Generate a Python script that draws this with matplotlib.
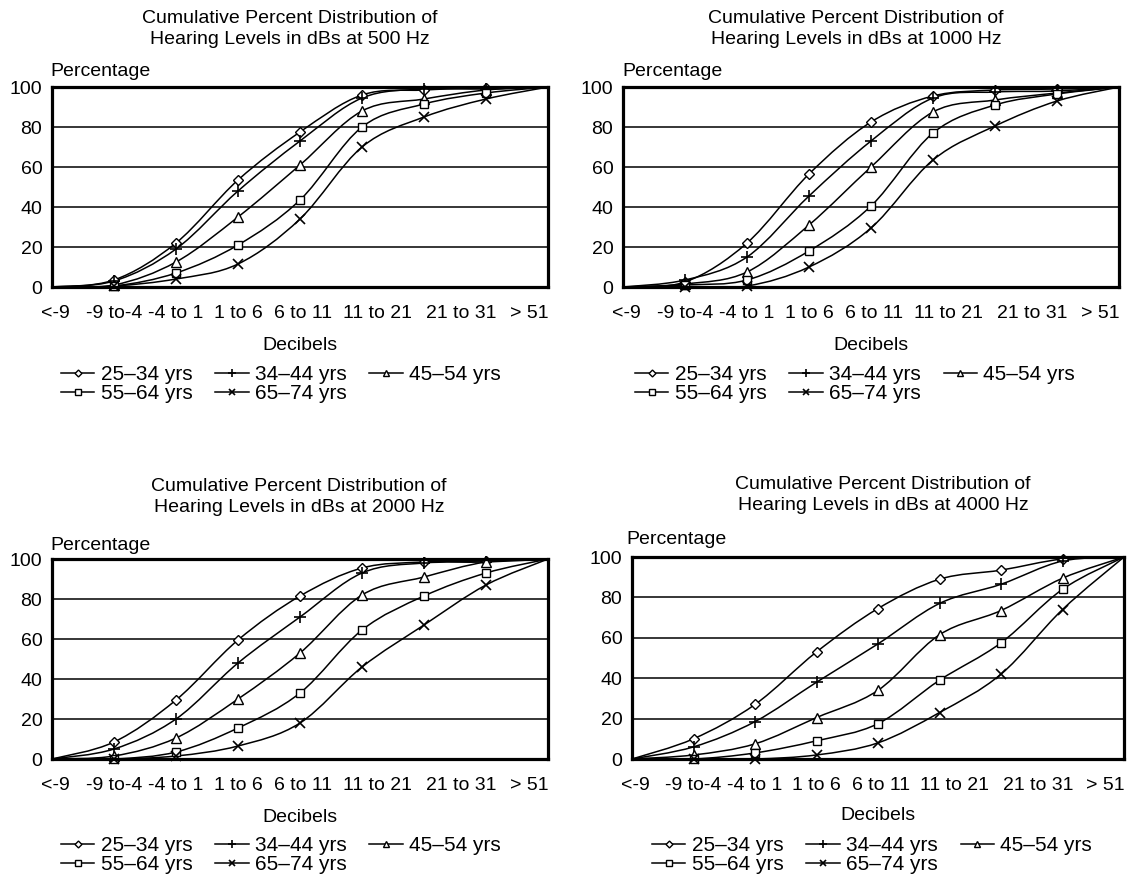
import numpy as np
import matplotlib
matplotlib.use("Agg")
import matplotlib.pyplot as plt
from matplotlib.path import Path
from matplotlib.patches import PathPatch
from matplotlib.lines import Line2D

plt.rcParams['font.family'] = ['Liberation Sans', 'DejaVu Sans']

# ---------------- data ----------------
categories = ["<-9", "-9 to-4", "-4 to 1", "1 to 6", "6 to 11",
              "11 to 21", "21 to 31", "> 51"]
series_labels = ["25\u201334 yrs", "34\u201344 yrs", "45\u201354 yrs",
                 "55\u201364 yrs", "65\u201374 yrs"]
frequencies = ["500", "1000", "2000", "4000"]
point_index = [0, 1, 2, 3, 4, 5, 6, 7, 8]

hz500_25_34 = [0, 3.5, 22, 53.5, 77.5, 96, 98.5, 99.5, 100]
hz500_34_44 = [0, 3, 19, 48, 73, 94.5, 99, 99, 100]
hz500_45_54 = [0, 1, 12.5, 35, 61, 88, 94, 98.5, 100]
hz500_55_64 = [0, 0.5, 7, 21, 43.5, 80, 91.5, 97, 100]
hz500_65_74 = [0, 0.5, 4, 11.5, 34, 70, 85, 94, 100]

hz1000_25_34 = [0, 2.5, 22, 56.5, 82.5, 95.5, 98.5, 99, 100]
hz1000_34_44 = [0, 3.5, 15, 45.5, 73, 94.5, 97.5, 98, 100]
hz1000_45_54 = [0, 1.5, 7.5, 31, 60, 87.5, 93.5, 97, 100]
hz1000_55_64 = [0, 1, 3.5, 18, 40.5, 77, 91, 96.5, 100]
hz1000_65_74 = [0, 0, 0.5, 10, 29.5, 63.5, 80.5, 93, 100]

hz2000_25_34 = [0, 8.5, 29.5, 59.5, 81.5, 95.5, 98.5, 99, 100]
hz2000_34_44 = [0, 5, 20, 48, 71, 93, 98, 98.5, 100]
hz2000_45_54 = [0, 1.5, 10.5, 30, 53, 82, 91, 98.5, 100]
hz2000_55_64 = [0, 0, 3.5, 15.5, 33, 64.5, 81.5, 93, 100]
hz2000_65_74 = [0, 0, 1.5, 6.5, 18, 46, 67, 87, 100]

hz4000_25_34 = [0, 10, 27, 53, 74.5, 89, 93.5, 99, 100]
hz4000_34_44 = [0, 6, 18.5, 38, 57, 77, 86.5, 98, 100]
hz4000_45_54 = [0, 2, 7.5, 20.5, 34, 61.5, 73.5, 89.5, 100]
hz4000_55_64 = [0, 0, 3, 9, 17.5, 39, 57.5, 84, 100]
hz4000_65_74 = [0, 0, 0, 2, 8, 23, 42, 74, 100]

panel_series = [
    [hz500_25_34, hz500_34_44, hz500_45_54, hz500_55_64, hz500_65_74],
    [hz1000_25_34, hz1000_34_44, hz1000_45_54, hz1000_55_64, hz1000_65_74],
    [hz2000_25_34, hz2000_34_44, hz2000_45_54, hz2000_55_64, hz2000_65_74],
    [hz4000_25_34, hz4000_34_44, hz4000_45_54, hz4000_55_64, hz4000_65_74],
]

# ---------------- style / layout ----------------
W, H = 1133, 876
fig = plt.figure(figsize=(W / 100, H / 100), dpi=100)
fig.patch.set_facecolor('white')


def fx(px):
    return px / W


def fy(py):
    return 1 - py / H


markers = [
    dict(marker='D', ms=5, mfc='white', mec='black', mew=1.0),
    dict(marker='+', ms=9, mec='black', mew=1.2),
    dict(marker='^', ms=6.5, mfc='white', mec='black', mew=1.0),
    dict(marker='s', ms=5.5, mfc='white', mec='black', mew=1.0),
    dict(marker='x', ms=6.5, mec='black', mew=1.2),
]

# pixel boxes: left, top, right, bottom
boxes = [(52, 87, 548, 287), (623, 87, 1119, 287),
         (52, 559, 548, 759), (632, 557, 1124, 759)]
title_pos = [(290, 29), (856, 29), (299, 497), (883, 495)]
perc_pos = [(50, 71), (622, 71), (50, 545), (626, 540)]
decib_y = [346, 346, 817, 816]
legend_pos = [(61, 365), (635, 365), (61, 836), (652, 836)]
tick_slots = [0.05, 1.0, 2.0, 3.0, 4.05, 5.25, 6.6, 7.7]

FS = 14
LFS = 15


def smooth_path(xs, ys):
    pts = np.column_stack([xs, ys]).astype(float)
    n = len(pts)
    verts = [pts[0]]
    codes = [Path.MOVETO]
    for i in range(n - 1):
        p0 = pts[i - 1] if i > 0 else pts[i]
        p1 = pts[i]
        p2 = pts[i + 1]
        p3 = pts[i + 2] if i + 2 < n else pts[i + 1]
        c1 = p1 + (p2 - p0) / 6.0
        c2 = p2 - (p3 - p1) / 6.0
        verts += [c1, c2, p2]
        codes += [Path.CURVE4] * 3
    return Path(verts, codes)


for k in range(4):
    l, t, r, b = boxes[k]
    ax = fig.add_axes([fx(l), fy(b), fx(r) - fx(l), (b - t) / H])
    ax.set_xlim(0, 8)
    ax.set_ylim(0, 100)
    ax.set_yticks([0, 20, 40, 60, 80, 100])
    ax.set_yticklabels(["0", "20", "40", "60", "80", "100"], fontsize=FS)
    ax.set_xticks(tick_slots)
    ax.set_xticklabels(categories, fontsize=FS)
    ax.tick_params(axis='x', length=0, pad=13)
    ax.tick_params(axis='y', length=0, pad=7)
    for yv in [20, 40, 60, 80]:
        ax.axhline(yv, color='black', lw=1.1, zorder=1)
    for sp in ax.spines.values():
        sp.set_linewidth(2.3)
        sp.set_zorder(5)

    for s, vals in enumerate(panel_series[k]):
        path = smooth_path(point_index, vals)
        patch = PathPatch(path, facecolor='none', edgecolor='black',
                          lw=1.1, transform=ax.transData, zorder=3)
        ax.add_patch(patch)
        ax.plot(point_index[1:-1], vals[1:-1], linestyle='none',
                zorder=4, clip_on=False, **markers[s])

    tx, ty = title_pos[k]
    fig.text(fx(tx), fy(ty),
             "Cumulative Percent Distribution of\nHearing Levels in dBs at %s Hz"
             % frequencies[k], ha='center', va='center', fontsize=FS,
             linespacing=1.3)
    px_, py_ = perc_pos[k]
    fig.text(fx(px_), fy(py_), "Percentage", ha='left', va='center',
             fontsize=FS)
    fig.text(fx((l + r) / 2), fy(decib_y[k]), "Decibels", ha='center',
             va='center', fontsize=FS)

    handles = [Line2D([], [], color='black', lw=1.1, **markers[s])
               for s in range(5)]
    order = [0, 3, 1, 4, 2]
    lx, ly = legend_pos[k]
    fig.legend([handles[i] for i in order],
               [series_labels[i] for i in order],
               loc='upper left', bbox_to_anchor=(fx(lx), fy(ly)),
               ncol=3, frameon=False, fontsize=LFS, handlelength=1.6,
               handletextpad=0.3, columnspacing=1.1, labelspacing=0.0,
               borderpad=0, borderaxespad=0, markerscale=0.7)

fig.savefig("out.png", dpi=100, facecolor='white')
